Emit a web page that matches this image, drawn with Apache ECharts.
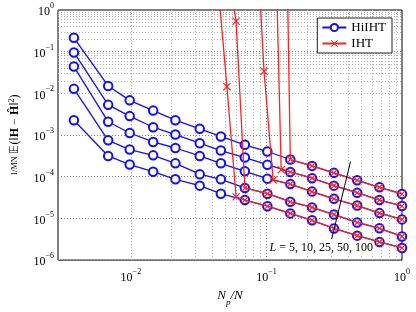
<!DOCTYPE html>
<html><head><meta charset="utf-8">
<script src="https://cdn.jsdelivr.net/npm/echarts@6/dist/echarts.min.js"></script>
<style>html,body{margin:0;padding:0;background:#fff}#c{width:416px;height:312px}</style>
</head><body><div id="c"></div>
<script>
// ---- data ----
const xHi = [0.0038, 0.0068, 0.0098, 0.0146, 0.0213, 0.0322, 0.0461, 0.0693, 0.1016, 0.150, 0.217, 0.315, 0.467, 0.682, 1.0];
const hiL100 = [0.2155, 0.01503, 0.00679, 0.00386, 0.00227, 0.00141, 0.000924, 0.000583, 0.000403, 0.000259, 0.000182, 0.000124, 8.22e-5, 5.59e-5, 3.86e-5];
const hiL50  = [0.0959, 0.00530, 0.00285, 0.00154, 0.00103, 0.000638, 0.000425, 0.000288, 0.000194, 0.000130, 9.24e-5, 6.11e-5, 4.13e-5, 2.76e-5, 1.99e-5];
const hiL25  = [0.0440, 0.00208, 0.00112, 0.000683, 0.000489, 0.000315, 0.000210, 0.000135, 9.0e-5, 6.65e-5, 4.40e-5, 2.96e-5, 2.04e-5, 1.34e-5, 9.48e-6];
const hiL10  = [0.01282, 0.000748, 0.000448, 0.000326, 0.000210, 0.000115, 8.67e-5, 5.38e-5, 3.92e-5, 2.52e-5, 1.84e-5, 1.24e-5, 8.0e-6, 5.79e-6, 3.70e-6];
const hiL5   = [0.00227, 0.000315, 0.000196, 0.000132, 8.67e-5, 6.11e-5, 3.92e-5, 2.76e-5, 1.96e-5, 1.32e-5, 9.0e-6, 5.74e-6, 3.86e-6, 2.73e-6, 1.96e-6];

const ihtX5   = [0.0438, 0.0511, 0.0597, 0.0693, 0.1016, 0.150, 0.217, 0.315, 0.467, 0.682, 1.0];
const ihtL5   = [4.5, 0.0145, 3.3e-5, 2.76e-5, 1.96e-5, 1.32e-5, 9.0e-6, 5.74e-6, 3.86e-6, 2.73e-6, 1.96e-6];
const ihtX10  = [0.0511, 0.0597, 0.0693, 0.1016, 0.150, 0.217, 0.315, 0.467, 0.682, 1.0];
const ihtL10  = [10, 0.538, 5.38e-5, 3.92e-5, 2.52e-5, 1.84e-5, 1.24e-5, 8.0e-6, 5.79e-6, 3.70e-6];
const ihtX25  = [0.081, 0.096, 0.112, 0.150, 0.217, 0.315, 0.467, 0.682, 1.0];
const ihtL25  = [900, 0.0338, 8.4e-5, 6.65e-5, 4.40e-5, 2.96e-5, 2.04e-5, 1.34e-5, 9.48e-6];
const ihtX50  = [0.110, 0.1285, 0.150, 0.217, 0.315, 0.467, 0.682, 1.0];
const ihtL50  = [1e5, 0.000147, 0.000130, 9.24e-5, 6.11e-5, 4.13e-5, 2.76e-5, 1.99e-5];
const ihtX100 = [0.1285, 0.150, 0.217, 0.315, 0.467, 0.682, 1.0];
const ihtL100 = [4e9, 0.000259, 0.000182, 0.000124, 8.22e-5, 5.59e-5, 3.86e-5];

const annotText = '= 5, 10, 25, 50, 100';
const annotPos = [0.1035, 2.0e-6];
const arrowFrom = [0.303, 3.2e-6];
const arrowTo = [0.417, 2.3e-4];

// ---- chart ----
const FONT = 'Liberation Serif';
const BLUE = '#1010ff';
const RED = '#ff2020';
const XMARK = 'path://M0,1L1,0L5,4L9,0L10,1L6,5L10,9L9,10L5,6L1,10L0,9L4,5Z';

function powLabel(v) {
  const l = Math.log10(v), e = Math.round(l);
  if (Math.abs(l - e) > 1e-6) return '';
  return '{b|10}{e|' + (e < 0 ? '\u2212' + (-e) : e) + '}';
}
const tickRich = {
  b: {fontFamily: FONT, fontSize: 12, color: '#000', verticalAlign: 'bottom', lineHeight: 16},
  e: {fontFamily: FONT, fontSize: 8, color: '#000', verticalAlign: 'top', lineHeight: 16}
};

const minorX = [], minorY = [];
for (let d = -3; d <= -1; d++) for (let m = 2; m <= 9; m++) { const v = m * Math.pow(10, d); if (v > 0.0029) minorX.push(v); }
for (let d = -6; d <= -1; d++) for (let m = 2; m <= 9; m++) minorY.push(m * Math.pow(10, d));

function hi(ys) {
  return {type: 'line', name: 'HiIHT', data: xHi.map((x, i) => [x, ys[i]]), symbol: 'emptyCircle', symbolSize: 8.5,
    lineStyle: {color: BLUE, width: 1.3}, itemStyle: {color: BLUE, borderWidth: 1.3}, z: 3, animation: false};
}
function iht(xs, ys) {
  return {type: 'line', name: 'IHT', data: xs.map((x, i) => [x, ys[i]]), symbol: XMARK, symbolSize: 8, symbolKeepAspect: true,
    lineStyle: {color: RED, width: 1.3}, itemStyle: {color: RED}, z: 4, animation: false};
}

const series = [
  {type: 'line', data: [], z: 1, animation: false, silent: true,
   markLine: {silent: true, symbol: 'none', z: 1, animation: false, label: {show: false},
     lineStyle: {type: [1, 2], color: '#b0b0b0', width: 1},
     emphasis: {disabled: true},
     data: minorX.map(v => ({xAxis: v})).concat(minorY.map(v => ({yAxis: v})))}},
  hi(hiL100), hi(hiL50), hi(hiL25), hi(hiL10), hi(hiL5),
  iht(ihtX5, ihtL5), iht(ihtX10, ihtL10), iht(ihtX25, ihtL25), iht(ihtX50, ihtL50), iht(ihtX100, ihtL100),
  {type: 'line', data: [], z: 6, animation: false, silent: true,
   markLine: {silent: true, symbol: ['none', 'arrow'], symbolSize: [0, 7], z: 6, animation: false, label: {show: false},
     lineStyle: {type: 'solid', color: '#000', width: 1}, emphasis: {disabled: true},
     data: [[{coord: arrowFrom}, {coord: arrowTo}]]},
   markPoint: {silent: true, symbol: 'circle', symbolSize: 0, z: 7, animation: false,
     data: [{coord: annotPos}],
     label: {show: true, position: 'right', distance: 0, formatter: '{i|L} ' + annotText,
       fontFamily: FONT, fontSize: 12, color: '#000', backgroundColor: '#fff', padding: [0, 1, 0, 1],
       rich: {i: {fontFamily: FONT, fontSize: 12, fontStyle: 'italic', color: '#000'}}}}}
];

const chart = echarts.init(document.getElementById('c'));
chart.setOption({
  animation: false,
  backgroundColor: '#fff',
  grid: {left: 55, top: 10, width: 347, height: 261, show: true, borderColor: '#000', borderWidth: 1, backgroundColor: 'transparent'},
  legend: {data: ['HiIHT', 'IHT'], orient: 'vertical', right: 24, top: 18, backgroundColor: '#fff',
    borderColor: '#222', borderWidth: 1, padding: [3, 6, 3, 4], itemGap: 3, itemWidth: 24, itemHeight: 9,
    textStyle: {fontFamily: FONT, fontSize: 13, color: '#000'}},
  xAxis: {type: 'log', logBase: 10, min: 0.0029, max: 1,
    name: '{i|N}{s|p}{i|/N}', nameLocation: 'middle', nameGap: 26,
    nameTextStyle: {rich: {i: {fontFamily: FONT, fontSize: 13, fontStyle: 'italic', color: '#000', verticalAlign: 'top', lineHeight: 16},
      s: {fontFamily: FONT, fontSize: 9, fontStyle: 'italic', color: '#000', verticalAlign: 'bottom', lineHeight: 18}}},
    axisLine: {show: false}, axisTick: {show: false},
    axisLabel: {formatter: powLabel, rich: tickRich, margin: 8, showMinLabel: true},
    splitLine: {show: true, lineStyle: {type: [1, 2], color: '#808080', width: 1}},
    minorTick: {show: false}},
  yAxis: {type: 'log', logBase: 10, min: 1e-6, max: 1,
    name: '{f|1/MN} \uD835\uDD3C(\u2016{b|H} \u2212 {b|\u0124}\u2016{s|2})', nameLocation: 'middle', nameGap: 36,
    nameTextStyle: {fontFamily: FONT, fontSize: 12, color: '#000',
      rich: {f: {fontFamily: FONT, fontSize: 8, color: '#000'}, b: {fontFamily: FONT, fontSize: 12, fontWeight: 'bold', color: '#000'},
        s: {fontFamily: FONT, fontSize: 8, color: '#000', verticalAlign: 'top', lineHeight: 14}}},
    axisLine: {show: false}, axisTick: {show: false},
    axisLabel: {formatter: powLabel, rich: tickRich, margin: 4},
    splitLine: {show: true, lineStyle: {type: [1, 2], color: '#808080', width: 1}}},
  series: series
});
</script>
</body></html>
